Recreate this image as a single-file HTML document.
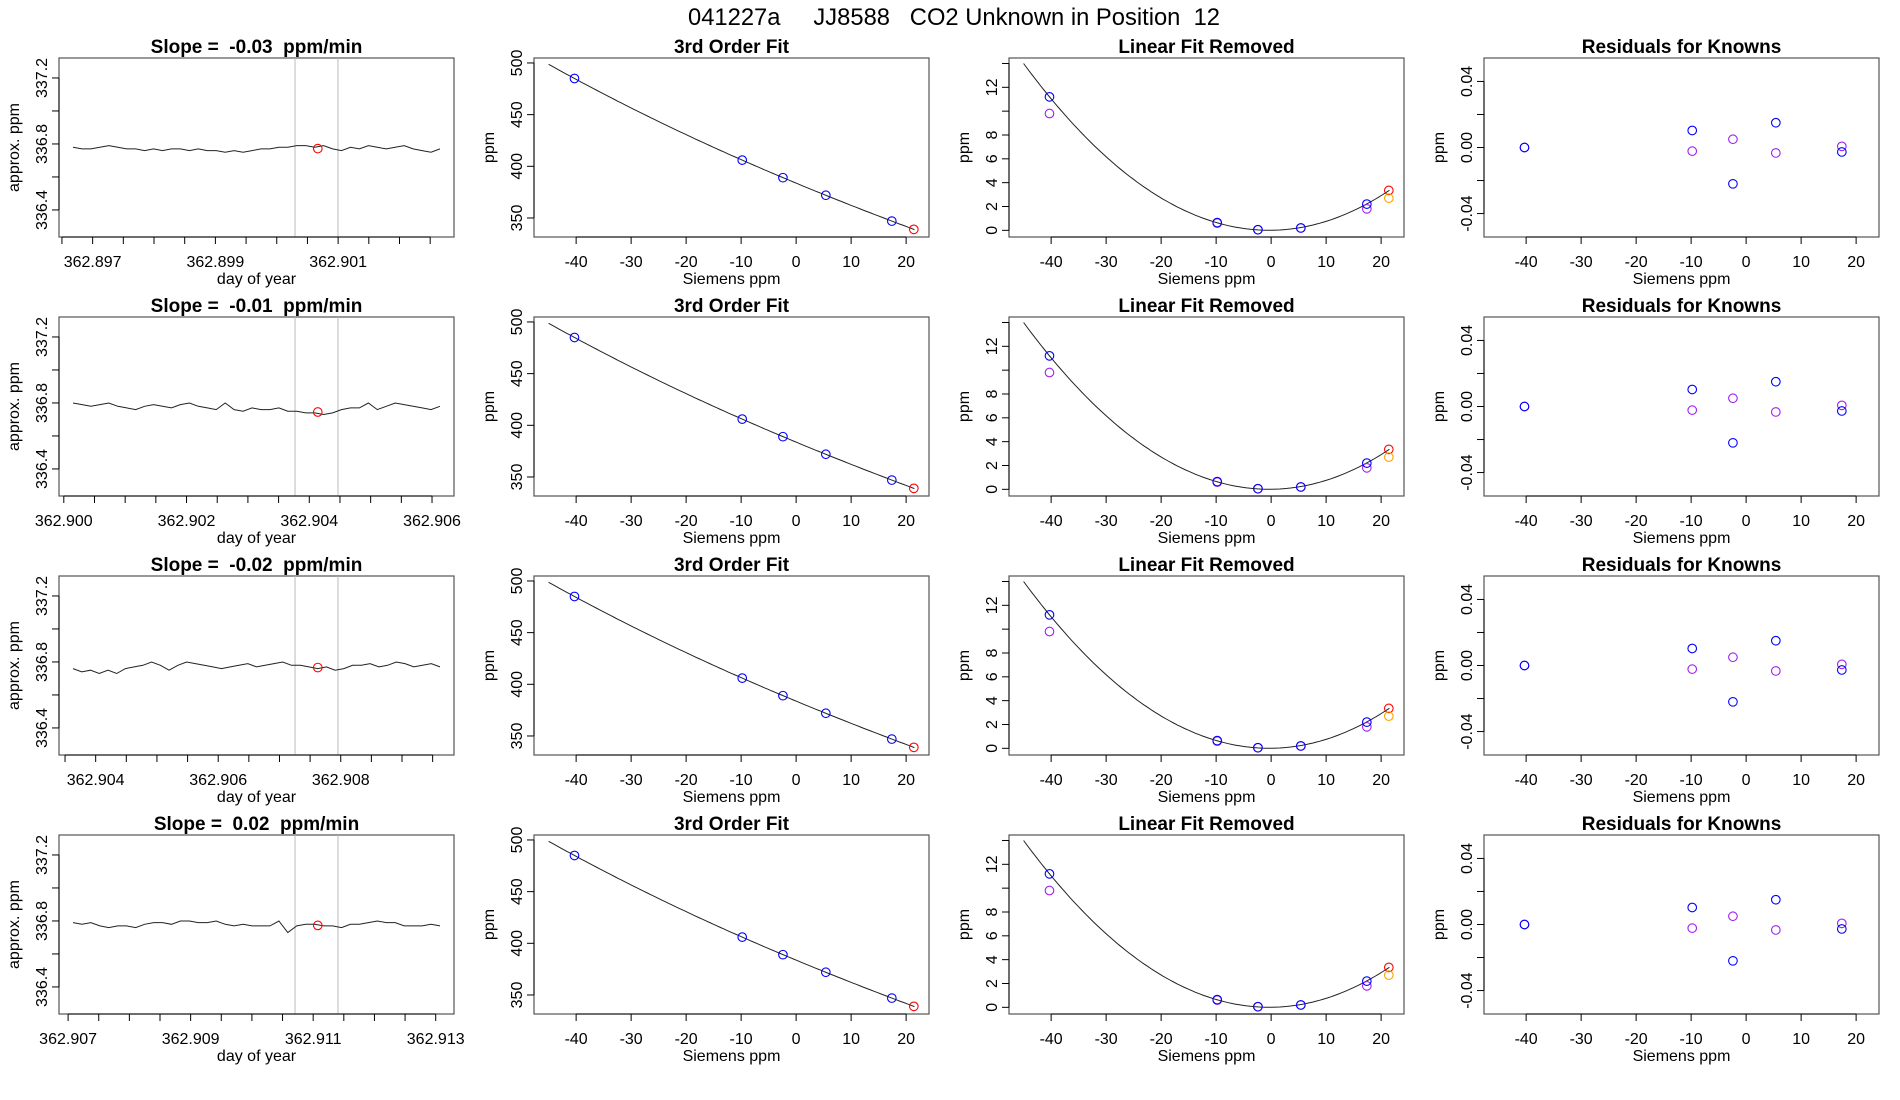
<!DOCTYPE html>
<html><head><meta charset="utf-8"><style>
html,body{margin:0;padding:0;background:#fff;}
svg{display:block;font-family:"Liberation Sans",Arial,sans-serif;}
text{white-space:pre;}
</style></head><body>
<svg id="chart" width="1900" height="1100" viewBox="0 0 1900 1100" xmlns="http://www.w3.org/2000/svg" xml:space="preserve">
<text x="954" y="25" font-size="24" text-anchor="middle" fill="#000" textLength="532" lengthAdjust="spacingAndGlyphs">041227a     JJ8588   CO2 Unknown in Position  12</text>
</svg>
<script>
// ---- data ----
const slopes = ["-0.03","-0.01","-0.02","0.02"];
const timeStarts = [362.89668, 362.90015, 362.90363, 362.90708];
const timeEnds = [362.90266, 362.90613, 362.90962, 362.91307];
const timeTicksMajor = [[362.897,362.899,362.901],[362.900,362.902,362.904,362.906],[362.904,362.906,362.908],[362.907,362.909,362.911,362.913]];
const redTimeFrac = [0.667,0.667,0.667,0.667];
const redValues = [336.772,336.745,336.766,336.773];
const grayLineFrac = [[0.605,0.722],[0.605,0.722],[0.605,0.722],[0.605,0.722]];
const series1 = [336.78,336.77,336.77,336.78,336.79,336.78,336.77,336.77,336.76,336.77,336.76,336.77,336.77,336.76,336.77,336.76,336.76,336.75,336.76,336.75,336.76,336.77,336.77,336.78,336.78,336.79,336.79,336.78,336.79,336.77,336.76,336.78,336.77,336.79,336.78,336.77,336.78,336.79,336.77,336.76,336.75,336.77];
const series2 = [336.80,336.79,336.78,336.79,336.80,336.78,336.77,336.76,336.78,336.79,336.78,336.77,336.79,336.80,336.78,336.77,336.76,336.80,336.76,336.75,336.77,336.76,336.76,336.77,336.75,336.75,336.74,336.74,336.73,336.74,336.76,336.77,336.77,336.80,336.76,336.78,336.80,336.79,336.78,336.77,336.76,336.78];
const series3 = [336.76,336.74,336.75,336.73,336.75,336.73,336.76,336.77,336.78,336.80,336.78,336.75,336.78,336.80,336.79,336.78,336.77,336.76,336.77,336.78,336.79,336.77,336.78,336.79,336.80,336.78,336.78,336.77,336.76,336.77,336.75,336.76,336.78,336.78,336.79,336.77,336.78,336.80,336.79,336.77,336.78,336.79,336.77];
const series4 = [336.79,336.78,336.79,336.77,336.76,336.77,336.77,336.76,336.78,336.79,336.79,336.78,336.80,336.80,336.79,336.79,336.80,336.78,336.77,336.78,336.77,336.77,336.77,336.80,336.73,336.77,336.78,336.78,336.77,336.77,336.76,336.78,336.78,336.79,336.80,336.79,336.79,336.77,336.77,336.77,336.78,336.77];
const knownX = [-40.3,-9.8,-2.4,5.4,17.4];
const knownY = [485,406,389,372,347];
const unknownX = 21.4;
const unknownY = 339;
const linBlue = [11.2,0.65,0.05,0.2,2.2];
const linPurple = [9.8,0.6,0.05,0.2,1.8];
const linRed = 3.35;
const linOrange = 2.7;
const residBlue = [0,0.0103,-0.022,0.015,-0.0027];
const residPurple = [0,-0.0022,0.005,-0.0033,0.0007];
const sienTicks = [-40,-30,-20,-10,0,10,20];
const ppmTicks = [350,400,450,500];
const linTicks = [0,2,4,6,8,10,12,14];
const linLabels = ["0","2","4","6","8","","12",""];
const residTicks = [-0.04,-0.02,0,0.02,0.04];
const residLabels = ["-0.04","","0.00","","0.04"];
const timeYTicks = [336.4,336.6,336.8,337.0,337.2];
const timeYLabels = ["336.4","","336.8","","337.2"];
const allSeries = [series1,series2,series3,series4];

const svg = document.getElementById('chart');
const NS = 'http://www.w3.org/2000/svg';
function mk(tag, attrs, parent){const e=document.createElementNS(NS,tag);for(const k in attrs)e.setAttribute(k,attrs[k]);(parent||svg).appendChild(e);return e;}
function txt(s,attrs,parent){const e=mk('text',attrs,parent);e.textContent=s;return e;}

function polyfit(xs,ys,deg){
  const n=deg+1;const A=[];for(let i=0;i<n;i++){A.push(new Array(n+1).fill(0));}
  for(let k=0;k<xs.length;k++){for(let i=0;i<n;i++){for(let j=0;j<n;j++)A[i][j]+=Math.pow(xs[k],i+j);A[i][n]+=ys[k]*Math.pow(xs[k],i);}}
  for(let i=0;i<n;i++){let p=i;for(let r=i+1;r<n;r++)if(Math.abs(A[r][i])>Math.abs(A[p][i]))p=r;[A[i],A[p]]=[A[p],A[i]];
    for(let r=0;r<n;r++){if(r===i)continue;const f=A[r][i]/A[i][i];for(let c=i;c<=n;c++)A[r][c]-=f*A[i][c];}}
  return A.map((row,i)=>row[n]/row[i]);
}
function pv(c,x){let s=0;for(let i=0;i<c.length;i++)s+=c[i]*Math.pow(x,i);return s;}
const cubic = polyfit(knownX.concat([unknownX]), knownY.concat([unknownY]), 3);
const linCurve = polyfit(knownX.concat([unknownX]), linBlue.concat([linRed]), 2);

const colX=[59,534,1009,1484], W=395, rowY=[58,317,576,835], H=179;

function frame(g,x0,y0,title){
  mk('rect',{x:x0,y:y0,width:W,height:H,fill:'none',stroke:'#555','stroke-width':1.2},g);
  const t=txt(title,{x:x0+W/2,y:y0-5,'font-size':19,'font-weight':'bold','text-anchor':'middle'},g);
  
  
}
function xAxis(g,x0,y0,ticks,labels,sx,title,minor){
  const yb=y0+H;
  const all=minor||ticks;
  mk('line',{x1:sx(all[0]),x2:sx(all[all.length-1]),y1:yb,y2:yb,stroke:'#000','stroke-width':1},g);
  all.forEach(v=>{mk('line',{x1:sx(v),x2:sx(v),y1:yb,y2:yb+7,stroke:'#000','stroke-width':1},g);});
  ticks.forEach((v,i)=>{const t=txt(labels[i],{x:sx(v),y:yb+30,'font-size':16,'text-anchor':'middle'},g);
    
    });
  const at=txt(title,{x:x0+W/2,y:yb+47,'font-size':16,'text-anchor':'middle'},g);
  
  
}
function yAxis(g,x0,y0,ticks,labels,sy,title){
  mk('line',{x1:x0,x2:x0,y1:sy(ticks[0]),y2:sy(ticks[ticks.length-1]),stroke:'#000','stroke-width':1},g);
  ticks.forEach((v,i)=>{mk('line',{x1:x0,x2:x0-7,y1:sy(v),y2:sy(v),stroke:'#000','stroke-width':1},g);
    if(labels[i]){const t=txt(labels[i],{x:x0-12,y:sy(v),'font-size':16,'text-anchor':'middle',transform:`rotate(-90 ${x0-12} ${sy(v)})`},g);
      
      }});
  const yt=txt(title,{x:x0-40,y:y0+H/2,'font-size':16,'text-anchor':'middle',transform:`rotate(-90 ${x0-40} ${y0+H/2})`},g);
  
  
}
function circ(g,x,y,col,name){const c=mk('circle',{cx:x,cy:y,r:4.3,fill:'none',stroke:col,'stroke-width':1.1},g);
  
  }

const sMin=-47.66,sMax=24.16;
for(let r=0;r<4;r++){
  const y0=rowY[r];
  {
    const x0=colX[0];
    const g=mk('g',{});
    
    
    const t0=timeStarts[r],t1=timeEnds[r];
    const span=(t1-t0)/(367/395);
    const xmin=t0-span*(14/395);
    const sx=v=>x0+(v-xmin)/span*W;
    const ymin=336.236,ymax=337.321;
    const sy=v=>y0+H-(v-ymin)/(ymax-ymin)*H;
    frame(g,x0,y0,`Slope =  ${slopes[r]}  ppm/min`);
    grayLineFrac[r].forEach(f=>{const l=mk('line',{x1:sx(t0+f*(t1-t0)),x2:sx(t0+f*(t1-t0)),y1:y0,y2:y0+H,stroke:'#bbb','stroke-width':1},g);
      
      });
    const s=allSeries[r];
    const pts=s.map((v,i)=>`${sx(t0+(t1-t0)*i/(s.length-1)).toFixed(1)},${sy(v).toFixed(1)}`).join(' ');
    const pl=mk('polyline',{points:pts,fill:'none',stroke:'#222','stroke-width':1},g);
    
    
    circ(g,sx(t0+redTimeFrac[r]*(t1-t0)),sy(redValues[r]),'#ff0000','unknown-point');
    const major=timeTicksMajor[r];
    const minor=[];for(let v=Math.ceil((xmin)/0.0005)*0.0005;v<=xmin+span+1e-9;v+=0.0005)minor.push(+v.toFixed(4));
    xAxis(g,x0,y0,major,major.map(v=>v.toFixed(3)),sx,'day of year',minor);
    yAxis(g,x0,y0,timeYTicks,timeYLabels,sy,'approx. ppm');
  }
  {
    const x0=colX[1];
    const g=mk('g',{});
    
    
    const sx=v=>x0+(v-sMin)/(sMax-sMin)*W;
    const ymin=331.6,ymax=504.8;
    const sy=v=>y0+H-(v-ymin)/(ymax-ymin)*H;
    frame(g,x0,y0,'3rd Order Fit');
    const pts=[];for(let i=0;i<=100;i++){const x=-45+66.5*i/100;pts.push(`${sx(x).toFixed(1)},${sy(pv(cubic,x)).toFixed(1)}`);}
    const pl=mk('polyline',{points:pts.join(' '),fill:'none',stroke:'#222','stroke-width':1},g);
    
    
    knownX.forEach((x,i)=>circ(g,sx(x),sy(knownY[i]),'#0000ff','known-point'));
    circ(g,sx(unknownX),sy(unknownY),'#ff0000','unknown-point');
    xAxis(g,x0,y0,sienTicks,sienTicks.map(String),sx,'Siemens ppm');
    yAxis(g,x0,y0,ppmTicks,ppmTicks.map(String),sy,'ppm');
  }
  {
    const x0=colX[2];
    const g=mk('g',{});
    
    
    const sx=v=>x0+(v-sMin)/(sMax-sMin)*W;
    const ymin=-0.56,ymax=14.46;
    const sy=v=>y0+H-(v-ymin)/(ymax-ymin)*H;
    frame(g,x0,y0,'Linear Fit Removed');
    const pts=[];for(let i=0;i<=100;i++){const x=-45+66.5*i/100;pts.push(`${sx(x).toFixed(1)},${sy(pv(linCurve,x)).toFixed(1)}`);}
    const pl=mk('polyline',{points:pts.join(' '),fill:'none',stroke:'#222','stroke-width':1},g);
    
    
    knownX.forEach((x,i)=>circ(g,sx(x),sy(linPurple[i]),'#a020f0','purple-point'));
    knownX.forEach((x,i)=>circ(g,sx(x),sy(linBlue[i]),'#0000ff','blue-point'));
    circ(g,sx(unknownX),sy(linRed),'#ff0000','unknown-point');
    circ(g,sx(unknownX),sy(linOrange),'#ffa500','orange-point');
    xAxis(g,x0,y0,sienTicks,sienTicks.map(String),sx,'Siemens ppm');
    yAxis(g,x0,y0,linTicks,linLabels,sy,'ppm');
  }
  {
    const x0=colX[3];
    const g=mk('g',{});
    
    
    const sx=v=>x0+(v-sMin)/(sMax-sMin)*W;
    const ymin=-0.0542,ymax=0.0542;
    const sy=v=>y0+H-(v-ymin)/(ymax-ymin)*H;
    frame(g,x0,y0,'Residuals for Knowns');
    knownX.forEach((x,i)=>circ(g,sx(x),sy(residPurple[i]),'#a020f0','purple-residual'));
    knownX.forEach((x,i)=>circ(g,sx(x),sy(residBlue[i]),'#0000ff','blue-residual'));
    xAxis(g,x0,y0,sienTicks,sienTicks.map(String),sx,'Siemens ppm');
    yAxis(g,x0,y0,residTicks,residLabels,sy,'ppm');
  }
}
</script>
</body></html>
